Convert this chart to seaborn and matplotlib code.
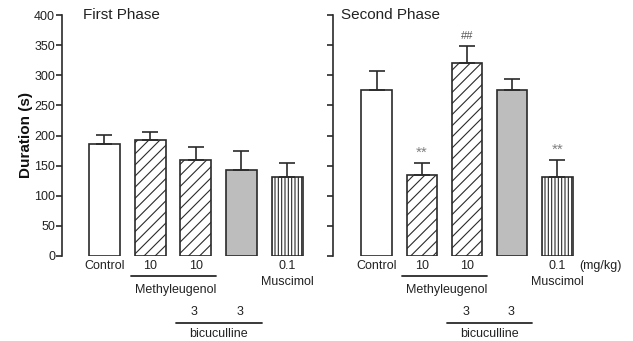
import matplotlib
matplotlib.use("Agg")
import matplotlib.pyplot as plt
import matplotlib.transforms as mtransforms
import seaborn as sns
import pandas as pd
import numpy as np

# ---- data ----
groups = ["Control", "ME10", "ME10+Bic3", "Bic3", "Muscimol0.1"]
first_mean = [186, 192, 159, 142, 131]
first_sem = [15, 14, 22, 32, 23]
second_mean = [276, 135, 320, 275, 131]
second_sem = [31, 19, 29, 18, 28]
tick_labels = ["Control", "10", "10", "", "0.1"]
bic_labels = ["", "", "3", "3", ""]
yticks = [0, 50, 100, 150, 200, 250, 300, 350, 400]

sns.set_style("ticks")
plt.rcParams["font.family"] = ["Liberation Sans", "DejaVu Sans"]
plt.rcParams["hatch.linewidth"] = 0.8

W, H = 633, 341
fig = plt.figure(figsize=(W / 100, H / 100), dpi=100)

EDGE = "#2a2a2a"
TXT = "#222222"
fills = ["white", "white", "white", "#bdbdbd", "white"]
hatches = [None, "///", "///", None, "|||||"]


def px_axes(left_px, right_px):
    return fig.add_axes([left_px / W, (H - 256) / H, (right_px - left_px) / W, 241 / H])


def yfrac(py):
    return (256 - py) / 241.0


def draw_panel(ax, means, sems, xlim, show_labels, title, title_x):
    df = pd.DataFrame({"group": groups, "mean": means})
    sns.barplot(data=df, x="group", y="mean", hue="group", order=groups,
                hue_order=groups, palette=fills, legend=False, ax=ax,
                width=0.68, saturation=1, errorbar=None)
    for p, h in zip(ax.patches, hatches):
        p.set_edgecolor(EDGE)
        p.set_linewidth(1.2)
        if h:
            p.set_hatch(h)
    ax.errorbar(np.arange(len(means)), means,
                yerr=[np.zeros(len(sems)), sems], fmt="none",
                ecolor=EDGE, elinewidth=1.2, capsize=6, capthick=1.2, zorder=1)
    ax.set_xlim(*xlim)
    ax.set_ylim(0, 400)
    ax.set_yticks(yticks)
    if show_labels:
        ax.set_yticklabels([str(v) for v in yticks], fontsize=9, color=TXT)
        ax.set_ylabel("Duration (s)", fontsize=11, fontweight="bold", color="#111111", labelpad=1)
    else:
        ax.set_yticklabels([])
        ax.set_ylabel("")
    ax.set_xlabel("")
    ax.set_xticks([])
    sns.despine(ax=ax, bottom=True, right=True, top=True)
    ax.spines["left"].set_bounds(0, 400)
    ax.spines["left"].set_color(EDGE)
    ax.spines["left"].set_linewidth(1.2)
    ax.tick_params(axis="y", direction="out", length=4, width=1.2, color=EDGE, pad=1)
    ax.patch.set_alpha(0)

    tr = mtransforms.blended_transform_factory(ax.transData, ax.transAxes)
    for i, lab in enumerate(tick_labels):
        if lab:
            ax.text(i, yfrac(266), lab, transform=tr, ha="center", va="center",
                    fontsize=9, color=TXT, clip_on=False)
    ax.text(4, yfrac(282), "Muscimol", transform=tr, ha="center", va="center",
            fontsize=9, color=TXT)
    ax.plot([0.57, 2.45], [yfrac(276)] * 2, transform=tr, color=EDGE, lw=1.3, clip_on=False)
    ax.text(1.55, yfrac(290), "Methyleugenol", transform=tr, ha="center", va="center",
            fontsize=9, color=TXT)
    for i, lab in enumerate(bic_labels):
        if lab:
            ax.text(i - 0.03, yfrac(312), lab, transform=tr, ha="center", va="center",
                    fontsize=9, color=TXT)
    ax.plot([1.56, 3.44], [yfrac(322.5)] * 2, transform=tr, color=EDGE, lw=1.3, clip_on=False)
    ax.text(2.5, yfrac(334), "bicuculline", transform=tr, ha="center", va="center",
            fontsize=9, color=TXT)
    ax.text(title_x, yfrac(15), title, transform=tr, ha="left", va="center",
            fontsize=11, color=TXT)


ax1 = px_axes(62, 310)
draw_panel(ax1, first_mean, first_sem, (-0.93, 4.5), True, "First Phase", -0.47)

ax2 = px_axes(333, 633)
draw_panel(ax2, second_mean, second_sem, (-0.97, 5.68), False, "Second Phase", -0.79)

tr2 = mtransforms.blended_transform_factory(ax2.transData, ax2.transAxes)
ax2.text(4.95, yfrac(266), "(mg/kg)", transform=tr2, ha="center", va="center",
         fontsize=9, color=TXT)
# significance marks
for i in (1, 4):
    ax2.text(i, second_mean[i] + second_sem[i] + 17, "**", ha="center", va="center",
             fontsize=11, color="#808080")
ax2.text(2, second_mean[2] + second_sem[2] + 16, "##", ha="center", va="center",
         fontsize=8, color="#555555")

fig.savefig("out.png", dpi=100)
